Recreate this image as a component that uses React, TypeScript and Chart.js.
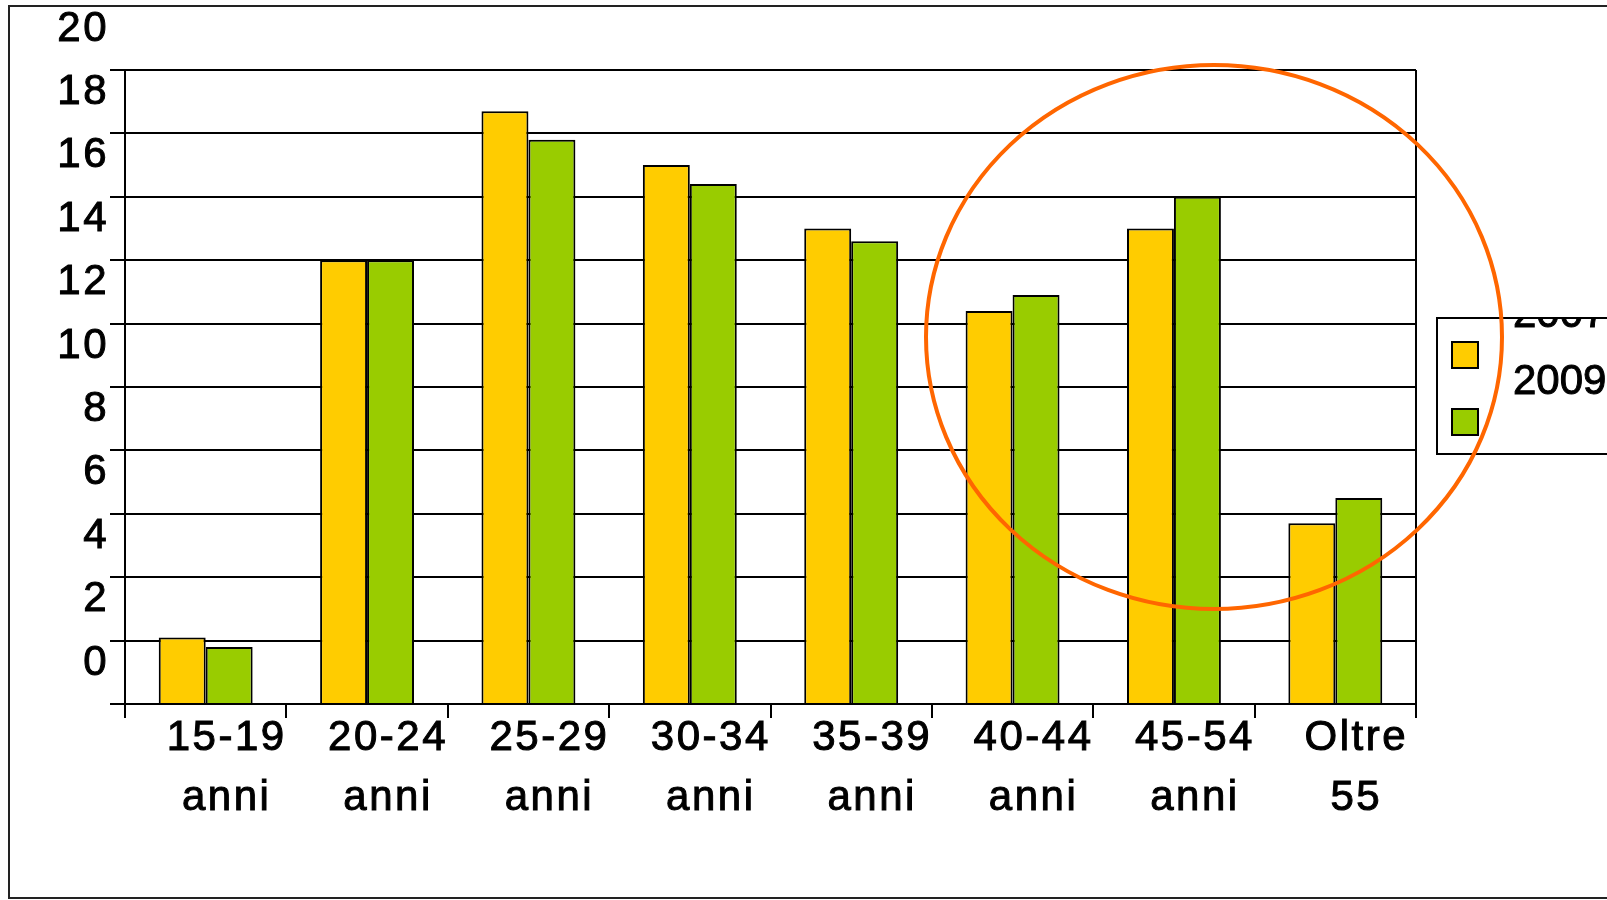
import { useEffect, useRef } from 'react';
import { Chart, registerables } from 'chart.js';

Chart.register(...registerables);

const categories: string[][] = [
  ['15-19', 'anni'],
  ['20-24', 'anni'],
  ['25-29', 'anni'],
  ['30-34', 'anni'],
  ['35-39', 'anni'],
  ['40-44', 'anni'],
  ['45-54', 'anni'],
  ['Oltre', '55'],
];
const seriesNames = ['2007', '2009'];
const values2007 = [2.1, 14.0, 18.7, 17.0, 15.0, 12.4, 15.0, 5.7];
const values2009 = [1.8, 14.0, 17.8, 16.4, 14.6, 12.9, 16.0, 6.5];
const yMin = 0;
const yMax = 20;
const yStep = 2;
const colors = ['#FFCC00', '#99CC00'];

const FONT = "'Liberation Sans', Arial, sans-serif";

const decorPlugin = {
  id: 'decor',
  beforeDraw(chart: any) {
    const ctx = chart.ctx;
    ctx.save();
    ctx.fillStyle = '#fff';
    ctx.fillRect(0, 0, chart.width, chart.height);
    ctx.strokeStyle = '#222';
    ctx.lineWidth = 2;
    ctx.strokeRect(9, 6, chart.width + 20, 892);
    ctx.restore();
    (ctx as any).letterSpacing = '2.5px';
  },
  beforeDatasetsDraw(chart: any) {
    const { ctx, chartArea } = chart;
    ctx.save();
    ctx.strokeStyle = '#000';
    ctx.lineWidth = 2;
    ctx.beginPath();
    ctx.moveTo(chartArea.right, chartArea.top);
    ctx.lineTo(chartArea.right, chartArea.bottom);
    ctx.stroke();
    ctx.restore();
  },
  afterDraw(chart: any) {
    const ctx = chart.ctx;
    ctx.save();
    (ctx as any).letterSpacing = '0px';
    // legend box
    const bx = 1437, by = 318, bw = 220, bh = 136;
    ctx.fillStyle = '#fff';
    ctx.fillRect(bx, by, bw, bh);
    ctx.strokeStyle = '#000';
    ctx.lineWidth = 2;
    ctx.strokeRect(bx, by, bw, bh);
    const swatchY = [342, 409];
    const textY = [315, 382];
    chart.data.datasets.forEach((ds: any, i: number) => {
      ctx.fillStyle = ds.backgroundColor;
      ctx.fillRect(1452, swatchY[i], 26, 26);
      ctx.strokeStyle = '#000';
      ctx.lineWidth = 2;
      ctx.strokeRect(1452, swatchY[i], 26, 26);
    });
    ctx.save();
    ctx.beginPath();
    ctx.rect(bx + 1, by + 1, bw - 2, bh - 2);
    ctx.clip();
    ctx.fillStyle = '#000';
    ctx.strokeStyle = '#000';
    ctx.lineWidth = 1;
    ctx.font = `42px ${FONT}`;
    ctx.textAlign = 'left';
    ctx.textBaseline = 'middle';
    chart.data.datasets.forEach((ds: any, i: number) => {
      ctx.strokeText(ds.label, 1513, textY[i]);
      ctx.fillText(ds.label, 1513, textY[i]);
    });
    ctx.restore();
    // orange ellipse
    ctx.strokeStyle = '#FF6600';
    ctx.lineWidth = 4;
    ctx.beginPath();
    ctx.ellipse(1214, 337, 288, 272, 0, 0, Math.PI * 2);
    ctx.stroke();
    ctx.restore();
  },
};

export default function App() {
  const ref = useRef<HTMLCanvasElement | null>(null);
  useEffect(() => {
    document.body.style.margin = '0';
    document.body.style.overflow = 'hidden';
    const canvas = ref.current!;
    const chart = new Chart(canvas, {
      type: 'bar',
      data: {
        labels: categories,
        datasets: [
          {
            label: seriesNames[0],
            data: values2007,
            backgroundColor: colors[0],
            borderColor: '#000',
            borderWidth: 2,
            barPercentage: 1,
            categoryPercentage: 0.582,
          },
          {
            label: seriesNames[1],
            data: values2009,
            backgroundColor: colors[1],
            borderColor: '#000',
            borderWidth: 2,
            barPercentage: 1,
            categoryPercentage: 0.582,
          },
        ],
      },
      options: {
        responsive: false,
        animation: false,
        events: [],
        layout: { padding: { left: 0, top: 70, right: 191, bottom: 0 } },
        plugins: {
          legend: { display: false },
          tooltip: { enabled: false },
          title: { display: false },
        },
        scales: {
          x: {
            offset: true,
            grid: {
              display: true,
              drawOnChartArea: false,
              drawTicks: true,
              tickLength: 14,
              color: '#000',
              lineWidth: 2,
              offset: true,
            },
            border: { display: false },
            ticks: {
              color: '#000',
              font: { family: FONT, size: 42, lineHeight: 60 / 42 },
              labelOffset: 21,
              padding: -10,
              maxRotation: 0,
              minRotation: 0,
              autoSkip: false,
              textStrokeColor: '#000',
              textStrokeWidth: 1,
            },
            afterFit: (s: any) => {
              s.height = 196;
              s.paddingLeft = 0;
              s.paddingRight = 0;
            },
          },
          y: {
            min: yMin,
            max: yMax,
            grid: {
              color: '#000',
              lineWidth: 2,
              drawTicks: true,
              tickLength: 15,
            },
            border: { display: true, color: '#000', width: 2 },
            ticks: {
              stepSize: yStep,
              color: '#000',
              font: { family: FONT, size: 42 },
              labelOffset: -41,
              padding: 1,
              autoSkip: false,
              textStrokeColor: '#000',
              textStrokeWidth: 1,
            },
            afterFit: (s: any) => {
              s.width = 125;
              s.paddingTop = 0;
              s.paddingBottom = 0;
            },
          },
        },
      },
      plugins: [decorPlugin],
    });
    return () => chart.destroy();
  }, []);
  return (
    <div style={{ position: 'absolute', left: 0, top: 0, width: 1607, height: 900 }}>
      <canvas ref={ref} width={1607} height={900} style={{ display: 'block' }} />
    </div>
  );
}
